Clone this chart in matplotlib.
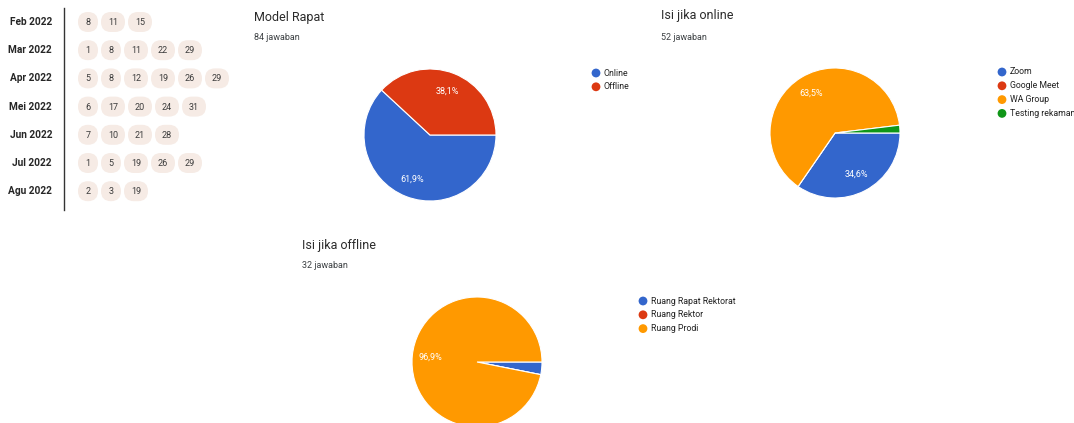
import matplotlib
matplotlib.use("Agg")
import matplotlib.pyplot as plt
from matplotlib.patches import FancyBboxPatch

plt.rcParams["font.family"] = ["Roboto", "DejaVu Sans"]

W, H = 1074, 423

# calendar data
months = ["Feb 2022", "Mar 2022", "Apr 2022", "Mei 2022", "Jun 2022", "Jul 2022", "Agu 2022"]
days = [
    [8, 11, 15],
    [1, 8, 11, 22, 29],
    [5, 8, 12, 19, 26, 29],
    [6, 17, 20, 24, 31],
    [7, 10, 21, 28],
    [1, 5, 19, 26, 29],
    [2, 3, 19],
]

# pie data (response counts)
model_title, model_n = "Model Rapat", 84
model_labels = ["Online", "Offline"]
model_counts = [52, 32]

online_title, online_n = "Isi jika online", 52
online_labels = ["Zoom", "Google Meet", "WA Group", "Testing rekaman"]
online_counts = [18, 0, 33, 1]

offline_title, offline_n = "Isi jika offline", 32
offline_labels = ["Ruang Rapat Rektorat", "Ruang Rektor", "Ruang Prodi"]
offline_counts = [1, 0, 31]

COLORS = ["#3366cc", "#dc3912", "#ff9900", "#109618"]

fig = plt.figure(figsize=(W / 100, H / 100), dpi=100)
fig.patch.set_facecolor("white")

# overlay axes in pixel coordinates
ov = fig.add_axes([0, 0, 1, 1])
ov.set_xlim(0, W)
ov.set_ylim(H, 0)
ov.axis("off")

# ── calendar ──
ov.plot([64, 64], [8, 210], color="#333333", lw=1)
row0, row_step = 22, 28.2
for i, (m, dl) in enumerate(zip(months, days)):
    y = row0 + i * row_step
    ov.text(52, y, m, ha="right", va="center", fontsize=7.3,
            fontweight="bold", color="#262626")
    x = 78
    for d in dl:
        w = 20 if d < 10 else 24
        ov.add_patch(FancyBboxPatch((x, y - 10), w, 20,
                                    boxstyle="round,pad=0,rounding_size=10",
                                    fc="#f6ebe5", ec="none"))
        ov.text(x + w / 2, y + 0.5, str(d), ha="center", va="center",
                fontsize=6.5, color="#3c3c3c")
        x += w + 3


def pct(p):
    return (f"{p:.1f}".replace(".", ",") + "%") if p > 5 else ""


def draw_pie(cx, cy, r, counts, labels, title, n, tx, ty, lx, ly):
    ax = fig.add_axes([(cx - r) / W, (H - cy - r) / H, 2 * r / W, 2 * r / H])
    ax.pie(counts, colors=COLORS[:len(counts)], startangle=0, counterclock=False,
           radius=1, autopct=pct, pctdistance=0.72,
           wedgeprops=dict(edgecolor="white", linewidth=0.8),
           textprops=dict(color="white", fontsize=6.5))
    ax.set_xlim(-1, 1)
    ax.set_ylim(-1, 1)
    ax.set_aspect("equal")
    ax.axis("off")
    ov.text(tx, ty, title, ha="left", va="center", fontsize=9, color="#2b2b2b")
    ov.text(tx, ty + 21, f"{n} jawaban", ha="left", va="center",
            fontsize=6.5, color="#3c4043")
    for j, lab in enumerate(labels):
        yy = ly + j * 13.8
        ov.scatter([lx], [yy], s=40, color=COLORS[j], edgecolors="none")
        ov.text(lx + 8, yy, lab, ha="left", va="center", fontsize=6.3, color="#222222")


draw_pie(430, 135, 66, model_counts, model_labels, model_title, model_n,
         254, 17, 596, 73)
draw_pie(835, 133, 65, online_counts, online_labels, online_title, online_n,
         661, 16, 1002, 72)
draw_pie(477, 362, 65, offline_counts, offline_labels, offline_title, offline_n,
         302, 245, 643, 301)

fig.savefig("out.png", dpi=100, facecolor="white")
